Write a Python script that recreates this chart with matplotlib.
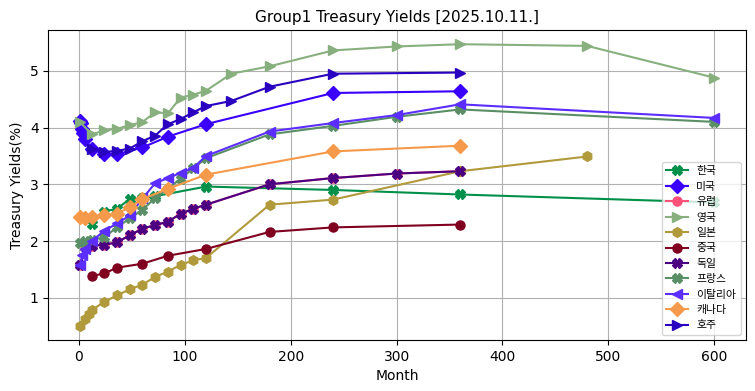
import matplotlib
matplotlib.use("Agg")
import matplotlib.pyplot as plt

plt.rcParams['font.family'] = ['DejaVu Sans', 'Noto Sans CJK KR']

title = "Group1 Treasury Yields [2025.10.11.]"
xlabel = "Month"
ylabel = "Treasury Yields(%)"

kr_x = [12, 24, 36, 48, 60, 72, 120, 240, 360, 600]
kr_y = [2.30, 2.52, 2.57, 2.74, 2.75, 2.79, 2.96, 2.90, 2.82, 2.68]

us_x = [1, 2, 3, 4, 6, 12, 24, 36, 60, 84, 120, 240, 360]
us_y = [4.12, 4.08, 3.97, 3.90, 3.80, 3.62, 3.53, 3.53, 3.65, 3.84, 4.06, 4.61, 4.64]

de_x = [1, 6, 12, 24, 36, 48, 60, 72, 84, 96, 108, 120, 180, 240, 300, 360]
de_y = [1.57, 1.89, 1.92, 1.93, 1.98, 2.10, 2.22, 2.28, 2.34, 2.48, 2.57, 2.64, 3.00, 3.11, 3.19, 3.23]

eu_x = de_x
eu_y = de_y

uk_x = [1, 12, 24, 36, 48, 60, 72, 84, 96, 108, 120, 144, 180, 240, 300, 360, 480, 600]
uk_y = [4.10, 3.88, 3.95, 3.98, 4.04, 4.10, 4.27, 4.25, 4.53, 4.58, 4.65, 4.95, 5.08, 5.36, 5.43, 5.47, 5.44, 4.88]

jp_x = [1, 6, 9, 12, 24, 36, 48, 60, 72, 84, 96, 108, 120, 180, 240, 360, 480]
jp_y = [0.50, 0.63, 0.72, 0.78, 0.93, 1.04, 1.15, 1.23, 1.37, 1.46, 1.58, 1.66, 1.70, 2.64, 2.73, 3.23, 3.49]

cn_x = [12, 24, 36, 60, 84, 120, 180, 240, 360]
cn_y = [1.38, 1.43, 1.53, 1.60, 1.74, 1.86, 2.16, 2.24, 2.29]

fr_x = [1, 6, 12, 24, 36, 48, 60, 72, 84, 96, 108, 120, 180, 240, 300, 360, 600]
fr_y = [1.97, 2.00, 2.02, 2.07, 2.24, 2.40, 2.55, 2.76, 2.92, 3.10, 3.28, 3.46, 3.88, 4.03, 4.19, 4.32, 4.10]

it_x = [1, 3, 6, 12, 24, 36, 48, 60, 72, 84, 96, 108, 120, 180, 240, 300, 360, 600]
it_y = [1.57, 1.75, 1.86, 2.00, 2.18, 2.31, 2.45, 2.75, 3.02, 3.11, 3.20, 3.29, 3.50, 3.93, 4.08, 4.22, 4.41, 4.17]

ca_x = [1, 6, 12, 24, 36, 48, 60, 84, 120, 240, 360]
ca_y = [2.42, 2.40, 2.43, 2.45, 2.48, 2.60, 2.74, 2.92, 3.17, 3.58, 3.68]

au_x = [12, 24, 36, 48, 60, 72, 84, 96, 108, 120, 144, 180, 240, 360]
au_y = [3.62, 3.57, 3.59, 3.63, 3.76, 3.86, 4.06, 4.15, 4.27, 4.38, 4.47, 4.72, 4.95, 4.97]

series = [
    ("한국", kr_x, kr_y, "#00904A", "X"),
    ("미국", us_x, us_y, "#3A00FF", "D"),
    ("유럽", eu_x, eu_y, "#FF507A", "o"),
    ("영국", uk_x, uk_y, "#88B07E", ">"),
    ("일본", jp_x, jp_y, "#B09A3C", "h"),
    ("중국", cn_x, cn_y, "#800020", "o"),
    ("독일", de_x, de_y, "#4B0082", "X"),
    ("프랑스", fr_x, fr_y, "#5A8F66", "X"),
    ("이탈리아", it_x, it_y, "#5B2EFF", "<"),
    ("캐나다", ca_x, ca_y, "#F5994A", "D"),
    ("호주", au_x, au_y, "#2A00C0", ">"),
]

fig = plt.figure(figsize=(7.55, 3.91), dpi=100)
ax = fig.add_axes([0.064, 0.13, 0.924, 0.793])
for name, xs, ys, c, m in series:
    ms = 6.5 if m == "o" else 7
    ax.plot(xs, ys, color=c, marker=m, markersize=ms, linewidth=1.5, label=name)

ax.set_title(title, fontsize=11)
ax.set_xlabel(xlabel, fontsize=10)
ax.set_ylabel(ylabel, fontsize=10)
ax.grid(True, color="#b0b0b0", linewidth=0.8)
ax.legend(loc="lower right", prop={"family": ["Noto Sans CJK KR", "DejaVu Sans"], "size": 7.8})
fig.savefig("out.png", dpi=100)
